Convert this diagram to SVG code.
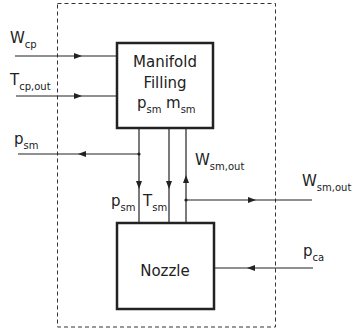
<svg xmlns="http://www.w3.org/2000/svg" width="353" height="331" viewBox="0 0 353 331">
<style>
text{font-family:"DejaVu Sans","Liberation Sans",sans-serif;font-size:15px;fill:#222}
.sub{font-size:10px}
.blk{fill:#fff;stroke:#222;stroke-width:2.5}
.con{fill:none;stroke:#222;stroke-width:1.2}
.dash{fill:none;stroke:#333;stroke-width:1;stroke-dasharray:4,3}
</style>
<defs>
<marker id="ah" markerUnits="userSpaceOnUse" markerWidth="9" markerHeight="7" refX="8" refY="3" orient="auto">
<path d="M0,0 L8,3 L0,6 z" fill="#222"/>
</marker>
</defs>
<rect class="dash" x="57.5" y="3.5" width="218" height="323.5"/>
<g id="connectors">
<path class="con" d="M15,56 L82,56 L117,56" marker-mid="url(#ah)"/>
<path class="con" d="M16,96 L82,96 L117,96" marker-mid="url(#ah)"/>
<path class="con" d="M139,128 L139,189 L139,223" marker-mid="url(#ah)"/>
<path class="con" d="M139,154 L78,154 L18,154" marker-mid="url(#ah)"/>
<path class="con" d="M169,128 L169,189 L169,223" marker-mid="url(#ah)"/>
<path class="con" d="M186,223 L186,175 L186,128" marker-mid="url(#ah)"/>
<path class="con" d="M186,200 L256,200 L312,200" marker-mid="url(#ah)"/>
<path class="con" d="M313,268 L247,268 L214,268" marker-mid="url(#ah)"/>
<circle cx="139" cy="154" r="1.6" fill="#222"/>
<circle cx="186" cy="200" r="1.6" fill="#222"/>
</g>
<g id="manifold">
<rect class="blk" x="117" y="43" width="96" height="85"/>
<text x="165" y="67" text-anchor="middle">Manifold</text>
<text x="165" y="88" text-anchor="middle">Filling</text>
<text x="137" y="108">p<tspan class="sub" dy="5">sm</tspan></text>
<text x="166" y="108">m<tspan class="sub" dy="5">sm</tspan></text>
</g>
<g id="nozzle">
<rect class="blk" x="117" y="223" width="97" height="86"/>
<text x="165" y="276" text-anchor="middle">Nozzle</text>
</g>
<g id="labels">
<text x="10" y="43">W<tspan class="sub" dy="5">cp</tspan></text>
<text x="10" y="85">T<tspan class="sub" dy="5">cp,out</tspan></text>
<text x="14" y="144">p<tspan class="sub" dy="5">sm</tspan></text>
<text x="111" y="206">p<tspan class="sub" dy="5">sm</tspan></text>
<text x="143" y="206">T<tspan class="sub" dy="5">sm</tspan></text>
<text x="195" y="165">W<tspan class="sub" dy="5">sm,out</tspan></text>
<text x="302" y="186">W<tspan class="sub" dy="5">sm,out</tspan></text>
<text x="303" y="256">p<tspan class="sub" dy="5">ca</tspan></text>
</g>
</svg>
